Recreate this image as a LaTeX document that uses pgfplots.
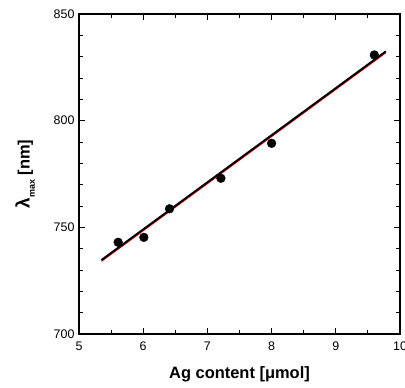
\documentclass[border=0pt]{standalone}
\usepackage{fontspec}
\setmainfont{Liberation Sans}
\usepackage{pgfplots}
\pgfplotsset{compat=1.18}
\begin{document}
\begin{tikzpicture}
\begin{axis}[
  scale only axis,
  width=321bp, height=320bp,
  xmin=5, xmax=10, ymin=700, ymax=850,
  xtick={5,6,...,10}, ytick={700,750,800,850},
  minor x tick num=1, minor y tick num=4,
  tick align=inside,
  major tick length=6bp, minor tick length=4bp,
  every tick/.style={black, line width=1pt},
  axis line style={line width=2.2pt},
  tick label style={font=\fontsize{12.5}{14}\selectfont},
  /pgf/number format/assume math mode=true,
  xticklabel style={yshift=-4bp},
  yticklabel style={xshift=-1bp},
  xlabel={\fontsize{16.5}{18}\selectfont\bfseries Ag content [μmol]},
  ylabel={\fontsize{16.5}{18}\selectfont\bfseries{\fontsize{19}{20}\selectfont λ}\raisebox{-0.6ex}{\fontsize{9}{10}\selectfont max} [nm]},
  xlabel style={yshift=-9bp},
  ylabel style={yshift=12bp},
  clip=false,
]
\addplot[red!85!black, line width=1.2pt] coordinates {(5.35,734.1) (9.78,831.9)};
\addplot[black, line width=1.9pt] coordinates {(5.35,734.7) (9.78,832.5)};
\addplot[only marks, mark=*, mark size=4.4bp, black] coordinates {
(5.61,743.0) (6.01,745.3) (6.41,758.7) (7.21,773.0) (8.00,789.4) (9.60,830.8)};
\end{axis}
\pgfresetboundingbox
\path ([xshift=-79bp,yshift=-53bp]current axis.south west) rectangle ([xshift=5bp,yshift=14bp]current axis.north east);
\end{tikzpicture}
\end{document}
